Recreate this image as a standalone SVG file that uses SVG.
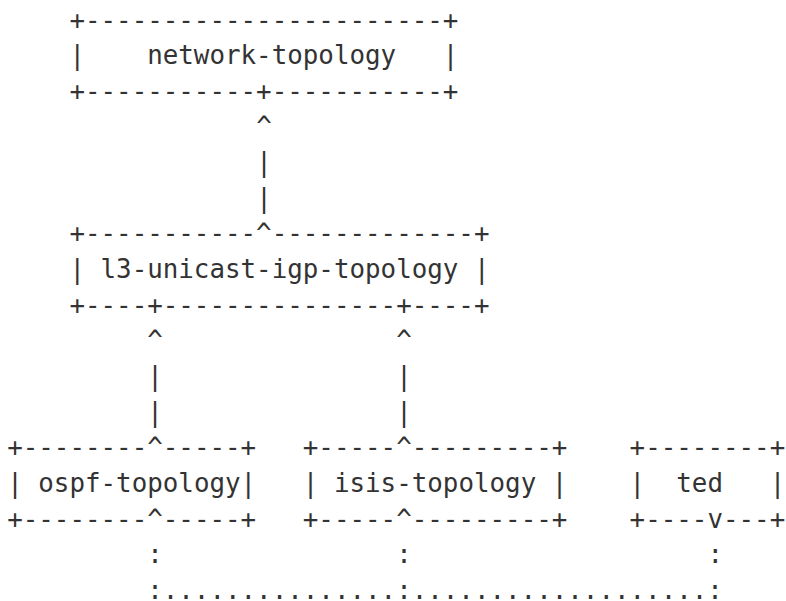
<svg xmlns="http://www.w3.org/2000/svg" width="786" height="601" viewBox="0 0 786 601">
<style>
text{font-family:"DejaVu Sans Mono","Liberation Mono",monospace;font-size:25.85px;fill:#333;white-space:pre}
</style>
<rect width="786" height="601" fill="#fff"/>
<g id="network-topology">
<text x="69.4" y="28.5" xml:space="preserve">+-----------------------+</text>
<text x="69.4" y="64.15" xml:space="preserve">|    network-topology   |</text>
<text x="69.4" y="99.8" xml:space="preserve">+-----------+-----------+</text>
</g>
<g id="l3-unicast-igp-topology">
<text x="69.4" y="242.4" xml:space="preserve">+-----------^-------------+</text>
<text x="69.4" y="278.05" xml:space="preserve">| l3-unicast-igp-topology |</text>
<text x="69.4" y="313.7" xml:space="preserve">+----+---------------+----+</text>
</g>
<g id="ospf-topology">
<text x="7.2" y="456.3" xml:space="preserve">+--------^-----+</text>
<text x="7.2" y="491.95" xml:space="preserve">| ospf-topology|</text>
<text x="7.2" y="527.6" xml:space="preserve">+--------^-----+</text>
</g>
<g id="isis-topology">
<text x="302.8" y="456.3" xml:space="preserve">+-----^---------+</text>
<text x="302.8" y="491.95" xml:space="preserve">| isis-topology |</text>
<text x="302.8" y="527.6" xml:space="preserve">+-----^---------+</text>
</g>
<g id="ted">
<text x="629.6" y="456.3" xml:space="preserve">+--------+</text>
<text x="629.6" y="491.95" xml:space="preserve">|  ted   |</text>
<text x="629.6" y="527.6" xml:space="preserve">+----v---+</text>
</g>
<g id="connectors">
<text x="256.2" y="135.45">^</text>
<text x="256.2" y="171.1">|</text>
<text x="256.2" y="206.75">|</text>
<text x="147.2" y="349.35">^</text>
<text x="147.2" y="385">|</text>
<text x="147.2" y="420.65">|</text>
<text x="396.2" y="349.35">^</text>
<text x="396.2" y="385">|</text>
<text x="396.2" y="420.65">|</text>
<text x="147.2" y="563.25">:</text>
<text x="396.2" y="563.25">:</text>
<text x="707.4" y="563.25">:</text>
<text x="147.2" y="598.9" xml:space="preserve">:...............:...................:</text>
</g>
</svg>
